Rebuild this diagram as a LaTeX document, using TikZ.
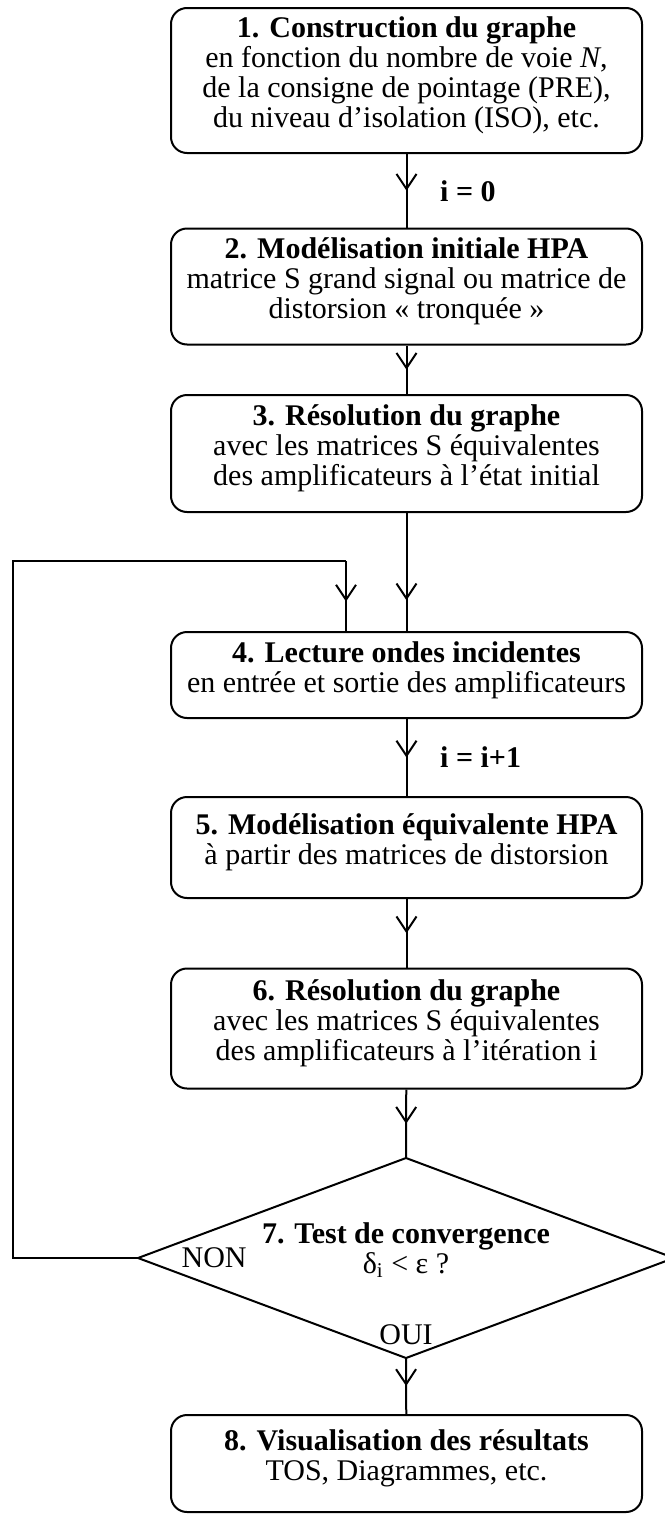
\documentclass[tikz,border=0pt]{standalone}
\usepackage{fontspec}
\setmainfont{Liberation Serif}
\usetikzlibrary{arrows.meta,positioning,decorations.markings}
\definecolor{flowline}{RGB}{0,0,0}

\tikzset{
  flow/.style={draw=flowline,line width=1pt},
  stepbox/.style={draw=flowline,line width=1pt,rounded corners=8pt,align=center,
    minimum width=235.5pt,inner sep=2pt,text depth=8pt,
    font=\fontsize{15}{15}\selectfont},
  flowlabel/.style={font=\fontsize{15}{15}\selectfont},
  midarrow/.style={postaction={decorate},decoration={markings,
    mark=at position #1 with {\arrow{Straight Barb[length=7.5pt,width=10pt]}}}},
  midarrow/.default=0.5
}

\begin{document}
\begin{tikzpicture}[x=0.5pt,y=-0.5pt,line width=1pt]
  \useasboundingbox (0,0) rectangle (664,1515);
  % steps of the algorithm
  \node[stepbox,minimum height=72.5pt] (construction) at (406.5,80.5)
    {\textbf{1. Construction du graphe}\\
     en fonction du nombre de voie \textit{N},\\
     de la consigne de pointage (PRE),\\
     du niveau d’isolation (ISO), etc.};
  \node[stepbox,minimum height=58pt] (initial) at (406.5,286.5)
    {\textbf{2. Modélisation initiale HPA}\\
     matrice S grand signal ou matrice de\\
     distorsion « tronquée »};
  \node[stepbox,minimum height=58.5pt] (resolinit) at (406.5,453.5)
    {\textbf{3. Résolution du graphe}\\
     avec les matrices S équivalentes\\
     des amplificateurs à l’état initial};
  \node[stepbox,minimum height=43pt] (lecture) at (406.5,675)
    {\textbf{4. Lecture ondes incidentes}\\
     en entrée et sortie des amplificateurs};
  \node[stepbox,minimum height=50.5pt] (equiv) at (406.5,847.5)
    {\textbf{5. Modélisation équivalente HPA}\\
     à partir des matrices de distorsion};
  \node[stepbox,minimum height=60pt] (resoliter) at (406.5,1028.5)
    {\textbf{6. Résolution du graphe}\\
     avec les matrices S équivalentes\\
     des amplificateurs à l’itération i};
  \node[stepbox,minimum height=48.5pt] (results) at (406.5,1463.5)
    {\textbf{8. Visualisation des résultats}\\
     TOS, Diagrammes, etc.};
  % convergence test
  \coordinate (testtop) at (406,1158);
  \coordinate (testleft) at (138,1258);
  \coordinate (testright) at (674,1258);
  \coordinate (testbottom) at (406,1358);
  \draw[flow] (testtop) -- (testright) -- (testbottom) -- (testleft) -- cycle;
  \node[flowlabel,align=center] (test) at (406,1250)
    {\textbf{7. Test de convergence}\\
     δ\textsubscript{i} < ε ?};
  % main flow
  \draw[flow,midarrow] (construction) -- (initial)
    node[midway,right=13pt,flowlabel] {\textbf{i = 0}};
  \draw[flow,midarrow] (initial) -- (resolinit);
  \draw[flow,midarrow=0.74] (resolinit) -- (lecture);
  \draw[flow,midarrow] (lecture) -- (equiv)
    node[midway,right=13pt,flowlabel] {\textbf{i = i+1}};
  \draw[flow,midarrow] (equiv) -- (resoliter);
  \draw[flow,midarrow] (resoliter) -- (testtop);
  \draw[flow,midarrow] (testbottom) -- (results);
  % loop back
  \coordinate (loopcorner) at (13,561);
  \coordinate (loopentry) at (346,561);
  \draw[flow] (testleft) -| (loopcorner) -- (loopentry);
  \draw[flow,midarrow=0.58] (loopentry) -- (loopentry |- lecture.north);
  \node[flowlabel,right=18pt of testleft] (non) {NON};
  \node[flowlabel,above=3pt of testbottom] (oui) {OUI};
\end{tikzpicture}
\end{document}
